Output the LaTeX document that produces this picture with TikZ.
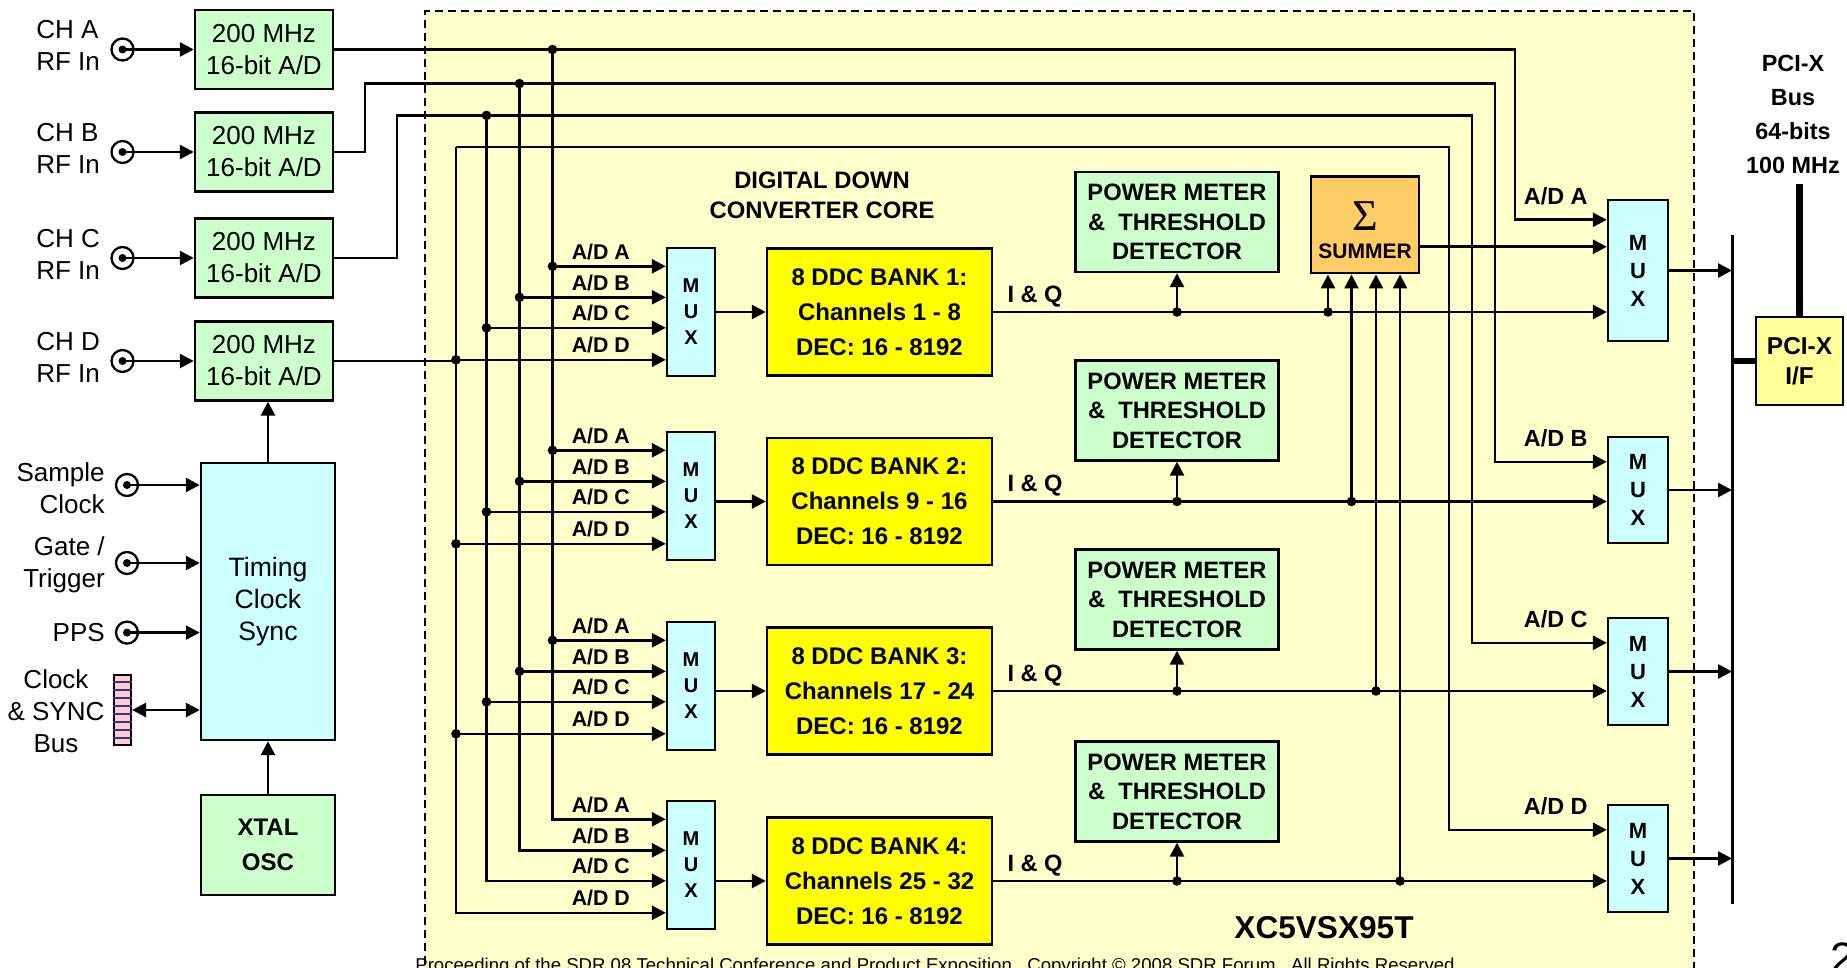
\documentclass[tikz,border=0pt]{standalone}
\usepackage{fontspec}
\setmainfont{Liberation Sans}
\newfontfamily\greekfont{Liberation Serif}
\usetikzlibrary{arrows.meta, calc, positioning}

\definecolor{adcgreen}{HTML}{CCFFCC}
\definecolor{muxcyan}{HTML}{CCFFFF}
\definecolor{ddcyellow}{HTML}{FFFF00}
\definecolor{sumorange}{HTML}{FFCC66}
\definecolor{corebg}{HTML}{FFFFCC}
\definecolor{pcifill}{HTML}{FFFF99}
\definecolor{buspink}{HTML}{FFCCCC}
\definecolor{busstripe}{HTML}{333399}

\begin{document}
\begin{tikzpicture}[x=0.5pt, y=-0.5pt, line width=1.3pt, >={Triangle[length=7pt, width=7pt]}]
    \useasboundingbox (0,0) rectangle (1847,968);

    \def\adcX{264}
    \def\muxX{691}
    \def\ddcX{879.5}
    \def\pmX{1177}
    \def\rmuxX{1638}
    \def\dotR{2.4pt}

    \tikzstyle{box} = [draw, line width=1.2pt, align=center, inner sep=0pt]
    \tikzstyle{adc} = [box, fill=adcgreen, minimum width=69pt, minimum height=39.5pt, font=\fontsize{13}{16}\selectfont]
    \tikzstyle{mux} = [box, fill=muxcyan, minimum width=24pt, minimum height=64pt, font=\bfseries\fontsize{10}{13}\selectfont]
    \tikzstyle{rmux} = [box, fill=muxcyan, minimum width=30pt, font=\bfseries\fontsize{11}{14}\selectfont]
    \tikzstyle{ddc} = [box, fill=ddcyellow, minimum width=112.5pt, minimum height=63.5pt, font=\bfseries\fontsize{12}{17.5}\selectfont]
    \tikzstyle{pm} = [box, fill=adcgreen, minimum width=101.5pt, minimum height=50pt, font=\bfseries\fontsize{11.85}{14.7}\selectfont]
    \tikzstyle{jack} = [circle, draw, fill=white, line width=1.15pt, minimum size=11pt, inner sep=0pt]
    \tikzstyle{inlbl} = [inner sep=0pt, font=\fontsize{13}{16}\selectfont]
    \tikzstyle{adlbl} = [inner sep=0pt, font=\bfseries\fontsize{10.65}{12}\selectfont]
    \tikzstyle{radlbl} = [inner sep=0pt, font=\bfseries\fontsize{11.7}{13}\selectfont]
    \tikzstyle{iqlbl} = [inner sep=0pt, font=\bfseries\fontsize{11.8}{13}\selectfont]

    % FPGA core area (open at the bottom)
    \fill [corebg] (425,11.5) rectangle (1694,990);
    \draw [line width=1pt, dash pattern=on 4pt off 2.5pt] (425,990) -- (425,11.5) -- (1694,11.5) -- (1694,990);

    % RF inputs and A/D converters
    \foreach \ch/\cy in {A/49.5, B/152, C/258, D/361} {
        \node (adc\ch) [adc] at (\adcX,\cy) {200 MHz\\16-bit A/D};
        \node (jack\ch) [jack] at (122.5,\cy) {};
        \fill (jack\ch.center) circle (2pt);
        \node (lbl\ch) [inlbl, anchor=west, align=left] at (35,\cy-4) {CH \ch\\RF In};
        \draw [->] (jack\ch.center) -- (adc\ch);
    }

    % timing section
    \node (timing) [box, fill=muxcyan, minimum width=67pt, minimum height=138.5pt, font=\fontsize{13.3}{16}\selectfont] at (268,601.5) {Timing\\Clock\\Sync};
    \node (xtal) [box, fill=adcgreen, minimum width=67pt, minimum height=50pt, font=\bfseries\fontsize{12}{17.5}\selectfont] at (268,845) {XTAL\\OSC};
    \draw [->] (xtal) -- (timing);
    \draw [->] (timing.north) -- (timing.north |- adcD.south);

    \foreach \nm/\cy/\ly/\txt in {sclk/485/488/{Sample\\Clock}, gate/563/565/{Gate /\\Trigger}, pps/632.6/632.6/PPS} {
        \node (jack-\nm) [jack] at (127,\cy) {};
        \fill (jack-\nm.center) circle (2pt);
        \draw [->] (jack-\nm.center) -- (jack-\nm.center -| timing.west);
        \node (lbl-\nm) [inlbl, anchor=east, align=right] at (106,\ly) {\txt};
    }

    \node (syncbus) [draw, line width=1.1pt, fill=buspink, minimum width=8.5pt, minimum height=35pt, inner sep=0pt] at (122.5,710) {};
    \foreach \s in {1,...,8}
        \draw [busstripe, line width=0.6pt] ($(syncbus.north west)!\s/9!(syncbus.south west)$) -- ($(syncbus.north east)!\s/9!(syncbus.south east)$);
    \node (lbl-sync) [inlbl, align=center] at (56,711.5) {Clock\\\& SYNC\\Bus};
    \draw [<->] (syncbus.east) -- (syncbus.east -| timing.west);

    % PCI-X side
    \coordinate (bar-top) at (1732,235);
    \coordinate (bar-bot) at (1732,904);
    \draw [line width=1.5pt] (bar-top) -- (bar-bot);
    \node (pcif) [box, fill=pcifill, minimum width=43.5pt, minimum height=44pt, font=\bfseries\fontsize{12.2}{14.75}\selectfont] at (1799.5,361) {PCI-X\\I/F};
    \node (pcibus) [inner sep=0pt, align=center, font=\bfseries\fontsize{11.7}{17}\selectfont] at (1793,114.5) {PCI-X\\Bus\\64-bits\\100 MHz};
    \draw [line width=3.3pt] (pcif.west -| bar-top) -- (pcif.west);
    \draw [line width=3.3pt] (pcif.north) -- ([yshift=-4.5pt]pcif.north |- pcibus.south);

    % output multiplexers
    \foreach \k/\ry/\rh/\off/\lt in {1/270.5/70.5/21/A, 2/490/53/26/B, 3/671.5/53.5/26/C, 4/858.5/53.5/26/D} {
        \node (rmux-\k) [rmux, minimum height=\rh*1pt] at (\rmuxX,\ry) {M\\U\\X};
        \coordinate (rin-\k) at ($(rmux-\k.north west)+(0,\off)$);
        \node (radl-\k) [radlbl, anchor=base] at ($(rin-\k)+(-51,-15)$) {A/D \lt};
        \draw [->] (rmux-\k.east) -- (rmux-\k.east -| bar-top);
    }

    % A/D busses
    \coordinate (bus-1) at (552.5,49.5);
    \coordinate (bus-2) at (519.5,83.6);
    \coordinate (bus-3) at (486.5,115.4);
    \coordinate (bus-4) at (456,147);

    \draw [->] (adcA.east) -- (1515,49.5) |- (rin-1);
    \draw [->] (adcB.east) -| (365,83.6) -- (1495,83.6) |- (rin-2);
    \draw [->] (adcC.east) -| (397,115.4) -- (1472,115.4) |- (rin-3);
    \draw [->] (bus-4) -- (1449,147) |- (rin-4);
    \draw (adcD.east) -- (adcD.east -| bus-4);
    \foreach \k in {1,2,3}
        \fill (bus-\k) circle (\dotR);

    \node (ddctitle) [inner sep=0pt, align=center, font=\bfseries\fontsize{11.9}{15}\selectfont] at (822,195) {DIGITAL DOWN\\CONVERTER CORE};

    % DDC banks
    \foreach \b/\my/\dy in {1/312/312, 2/496/501.5, 3/686/691, 4/865/881} {
        \pgfmathtruncatemacro{\chLo}{8*\b-7}
        \pgfmathtruncatemacro{\chHi}{8*\b}
        \node (mux-\b) [mux] at (\muxX,\my) {M\\U\\X};
        \node (ddc-\b) [ddc] at (\ddcX,\dy) {8 DDC BANK \b:\\Channels \chLo{} - \chHi\\DEC: 16 - 8192};
        \draw [->] (ddc-\b.west -| mux-\b.east) -- (ddc-\b);

        % bus taps into the bank mux
        \foreach \k/\lt/\off in {1/A/19.5, 2/B/50.5, 3/C/81, 4/D/113} {
            \coordinate (in-\b-\k) at ($(mux-\b.north west)+(0,\off)$);
            \node (adl-\b-\k) [adlbl, anchor=base] at ($(in-\b-\k)+(-65,-7)$) {A/D \lt};
            \ifnum \b<4
                \draw [->] (in-\b-\k -| bus-\k) -- (in-\b-\k);
                \fill (in-\b-\k -| bus-\k) circle (\dotR);
            \else
                \draw [->] (bus-\k) |- (in-\b-\k);
            \fi
        }
    }

    % power meters and summer
    \foreach \b/\py in {1/222, 2/410.5, 3/599.5, 4/791.5}
        \node (pm-\b) [pm] at (\pmX,\py) {POWER METER\\\&\ \ THRESHOLD\\DETECTOR};

    \node (sum) [box, fill=sumorange, minimum width=54.25pt, minimum height=48.3pt] at (1365,225) {};
    \node (sigma) [inner sep=0pt, font=\greekfont\fontsize{22}{22}\selectfont] at (1365,215.6) {Σ};
    \node (sumlbl) [inner sep=0pt, font=\bfseries\fontsize{10.5}{12}\selectfont] at (1365,251) {SUMMER};
    \coordinate (sout) at ($(sum.south east)!0.28!(sum.north east)$);
    \draw [->] (sout) -- (sout -| rmux-1.west);

    % I & Q outputs
    \foreach \b/\fr in {1/0.166, 2/0.378, 3/0.599, 4/0.816} {
        \coordinate (sin-\b) at ($(sum.south west)!\fr!(sum.south east)$);
        \node (iq-\b) [iqlbl, anchor=base west] at ($(ddc-\b.east)+(13,-10)$) {I \& Q};
        \draw [->] (ddc-\b.east) -- (ddc-\b.east -| rmux-\b.west);
        \draw [->] (ddc-\b.east -| pm-\b.south) -- (pm-\b.south);
        \draw [->] (ddc-\b.east -| sin-\b) -- (sin-\b);
        \fill (ddc-\b.east -| pm-\b.south) circle (\dotR);
        \fill (ddc-\b.east -| sin-\b) circle (\dotR);
    }

    \node (fpga) [inner sep=0pt, font=\bfseries\fontsize{15.8}{18}\selectfont] at (1324,928) {XC5VSX95T};

    % footer, cut by the page edge
    \node (footer) [inner sep=0pt, anchor=base, font=\fontsize{9.3}{11}\selectfont] at (935,971.5) {Proceeding of the SDR 08 Technical Conference and Product Exposition.\ \ Copyright © 2008 SDR Forum.\ \ All Rights Reserved};
    \node (pagenum) [inner sep=0pt, anchor=base west, font=\fontsize{22}{24}\selectfont] at (1829,973) {2};
\end{tikzpicture}
\end{document}
